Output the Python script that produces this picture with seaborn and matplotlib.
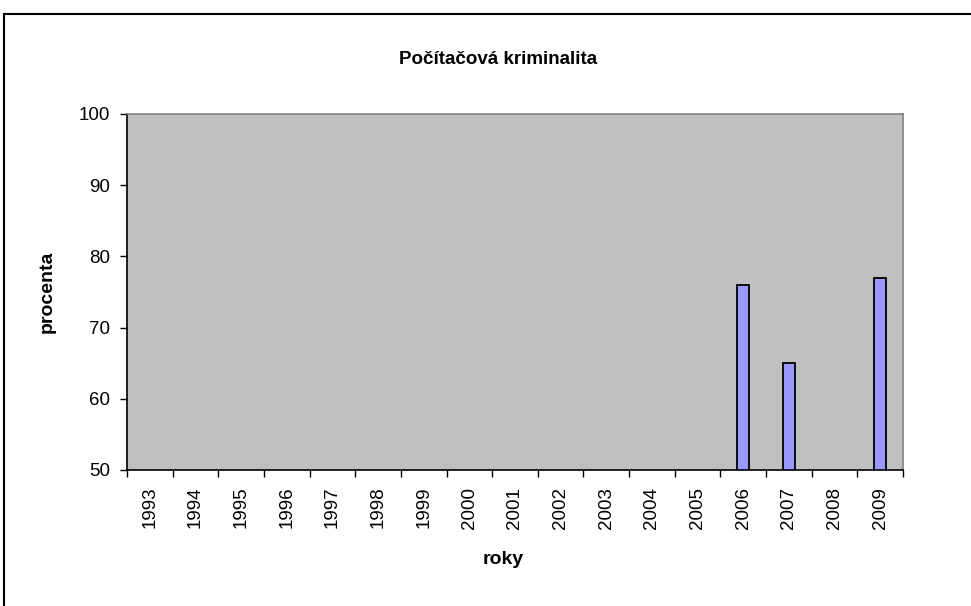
import numpy as np
import pandas as pd
import seaborn as sns
from matplotlib import pyplot as plt
from matplotlib.patches import Rectangle

# data (only three years have a value)
years = [str(y) for y in range(1993, 2010)]
values = [np.nan] * 13 + [76, 65, np.nan, 77]

df = pd.DataFrame({'rok': years, 'procenta': values})

sns.set_style('white')
plt.rcParams['font.family'] = ['Liberation Sans', 'DejaVu Sans']
plt.rcParams['text.color'] = 'black'
plt.rcParams['xtick.color'] = 'black'
plt.rcParams['ytick.color'] = 'black'
plt.rcParams['axes.labelcolor'] = 'black'

fig = plt.figure(figsize=(9.71, 6.06), dpi=100)
ax = fig.add_axes([127 / 971, 1 - 470 / 606, 776 / 971, 356 / 606])

sns.barplot(data=df, x='rok', y='procenta', order=years, color='#9999FF',
            saturation=1, width=0.26, errorbar=None, edgecolor='black',
            linewidth=1.3, ax=ax)

ax.set_facecolor('#C0C0C0')
ax.set_ylim(50, 100)
ax.set_xlim(-0.5, len(years) - 0.5)
ax.set_yticks(range(50, 101, 10))

# Excel style: ticks between the categories, labels in the middle
ax.set_xticks(range(len(years)))
ax.set_xticklabels(years, rotation=90)
ax.set_xticks(np.arange(-0.5, len(years), 1), minor=True)
ax.tick_params(axis='x', which='major', bottom=True, length=0, pad=12, labelsize=13.5)
ax.tick_params(axis='x', which='minor', bottom=True, length=5, width=1, direction='out', color='black')
ax.tick_params(axis='y', left=True, length=5, width=1, direction='out', color='black', labelsize=13.5, pad=7)

for s in ['left', 'bottom']:
    ax.spines[s].set_color('black')
    ax.spines[s].set_linewidth(1.2)
for s in ['right', 'top']:
    ax.spines[s].set_color('#808080')
    ax.spines[s].set_linewidth(1.2)

ax.set_xlabel('roky', fontsize=14, fontweight='bold', va='center')
ax.set_ylabel('procenta', fontsize=14, fontweight='bold', va='center')
ax.xaxis.set_label_coords((503 - 127) / 776, (470 - 560) / 356)
ax.yaxis.set_label_coords((47 - 127) / 776, 0.5)

fig.text(498 / 971, 1 - 59 / 606, 'Počítačová kriminalita', fontsize=13.5,
         fontweight='bold', ha='center', va='center')

# outer chart frame, cut by the picture edges on the right and bottom
fig.add_artist(Rectangle((4 / 971, -0.1), 1.2, 1.1 - 14 / 606, transform=fig.transFigure,
                         fill=False, edgecolor='black', linewidth=1.5))

fig.savefig('out.png', dpi=100, facecolor='white')
